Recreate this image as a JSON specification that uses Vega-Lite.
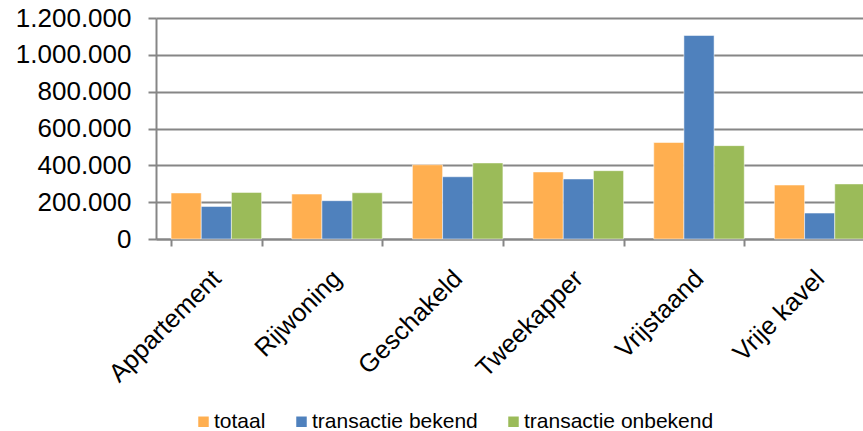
{
  "$schema": "https://vega.github.io/schema/vega-lite/v6.json",
  "autosize": {"type": "none"},
  "padding": {"left": 156, "top": 18, "right": -17, "bottom": 192},
  "width": 724,
  "height": 221,
  "background": "white",
  "data": {
    "values": [
      {"type": "Appartement", "series": "totaal", "value": 250000},
      {"type": "Appartement", "series": "transactie bekend", "value": 177000},
      {"type": "Appartement", "series": "transactie onbekend", "value": 253000},
      {"type": "Rijwoning", "series": "totaal", "value": 244000},
      {"type": "Rijwoning", "series": "transactie bekend", "value": 208000},
      {"type": "Rijwoning", "series": "transactie onbekend", "value": 251000},
      {"type": "Geschakeld", "series": "totaal", "value": 403000},
      {"type": "Geschakeld", "series": "transactie bekend", "value": 338000},
      {"type": "Geschakeld", "series": "transactie onbekend", "value": 413000},
      {"type": "Tweekapper", "series": "totaal", "value": 364000},
      {"type": "Tweekapper", "series": "transactie bekend", "value": 326000},
      {"type": "Tweekapper", "series": "transactie onbekend", "value": 371000},
      {"type": "Vrijstaand", "series": "totaal", "value": 524000},
      {"type": "Vrijstaand", "series": "transactie bekend", "value": 1105000},
      {"type": "Vrijstaand", "series": "transactie onbekend", "value": 507000},
      {"type": "Vrije kavel", "series": "totaal", "value": 293000},
      {"type": "Vrije kavel", "series": "transactie bekend", "value": 141000},
      {"type": "Vrije kavel", "series": "transactie onbekend", "value": 299000}
    ]
  },
  "mark": {"type": "bar", "stroke": "white", "strokeWidth": 1, "strokeOpacity": 0.5},
  "encoding": {
    "x": {
      "field": "type",
      "type": "nominal",
      "sort": ["Appartement", "Rijwoning", "Geschakeld", "Tweekapper", "Vrijstaand", "Vrije kavel"],
      "scale": {"paddingInner": 0.25, "paddingOuter": 0.125},
      "axis": {
        "title": null,
        "labelAngle": -45,
        "labelAlign": "right",
        "labelBaseline": "middle",
        "labelFont": "Liberation Sans",
        "labelFontSize": 25.5,
        "labelColor": "black",
        "labelPadding": 28,
        "tickBand": "extent",
        "tickSize": 7,
        "tickColor": "#868686",
        "tickWidth": 2,
        "domainColor": "#868686",
        "domainWidth": 2,
        "grid": false
      }
    },
    "xOffset": {
      "field": "series",
      "type": "nominal",
      "sort": ["totaal", "transactie bekend", "transactie onbekend"],
      "scale": {"paddingInner": 0, "paddingOuter": 0}
    },
    "y": {
      "field": "value",
      "type": "quantitative",
      "scale": {"domain": [0, 1200000], "nice": false},
      "axis": {
        "title": null,
        "values": [0, 200000, 400000, 600000, 800000, 1000000, 1200000],
        "labelExpr": "replace(format(datum.value, ',d'), /,/g, '.')",
        "labelFont": "Liberation Sans",
        "labelFontSize": 26,
        "labelColor": "black",
        "labelPadding": 17,
        "tickSize": 8,
        "tickColor": "#868686",
        "tickWidth": 2,
        "domainColor": "#868686",
        "domainWidth": 2,
        "gridColor": "#868686",
        "gridWidth": 2
      }
    },
    "color": {
      "field": "series",
      "type": "nominal",
      "sort": ["totaal", "transactie bekend", "transactie onbekend"],
      "scale": {
        "domain": ["totaal", "transactie bekend", "transactie onbekend"],
        "range": ["#FFAF50", "#4F81BD", "#9BBB59"]
      },
      "legend": {
        "title": null,
        "orient": "none",
        "direction": "horizontal",
        "legendX": 37,
        "legendY": 393,
        "symbolType": "square",
        "symbolSize": 110,
        "symbolStrokeWidth": 0,
        "labelFont": "Liberation Sans",
        "labelFontSize": 21,
        "labelColor": "black",
        "labelOffset": 0,
        "columnPadding": 25,
        "labelLimit": 400
      }
    }
  },
  "config": {"view": {"stroke": null}}
}
